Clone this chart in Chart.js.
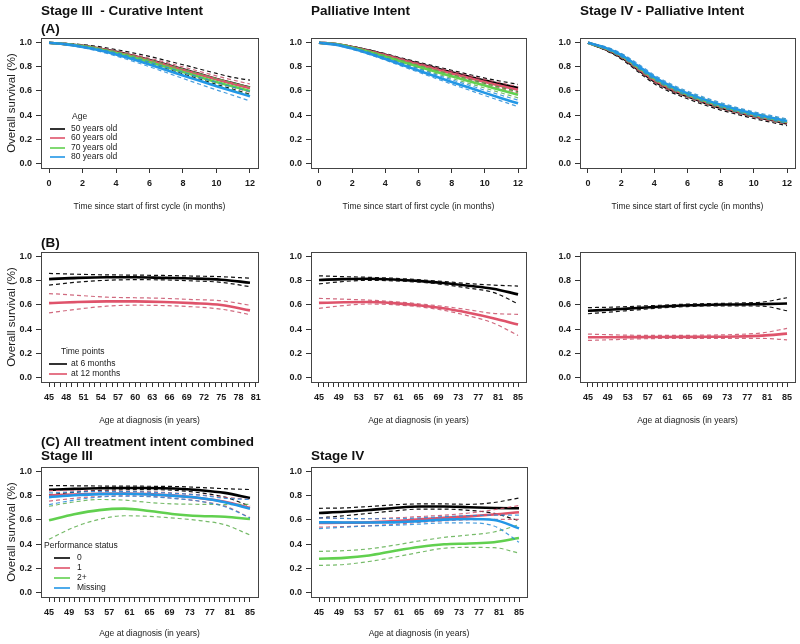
<!DOCTYPE html>
<html>
<head>
<meta charset="utf-8">
<script src="https://cdn.jsdelivr.net/npm/chart.js@4.4.1/dist/chart.umd.min.js"></script>
<style>
  body { margin: 0; background: #fff; }
  #page { position: relative; width: 800px; height: 644px; overflow: hidden; }
  .panel { position: absolute; }
</style>
</head>
<body>
<div id="page">
  <div class="panel" style="left:0;top:0;width:270px;height:215px"><canvas id="a1"></canvas></div>
  <div class="panel" style="left:270px;top:0;width:270px;height:215px"><canvas id="a2"></canvas></div>
  <div class="panel" style="left:540px;top:0;width:260px;height:215px"><canvas id="a3"></canvas></div>
  <div class="panel" style="left:0;top:215px;width:270px;height:215px"><canvas id="b1"></canvas></div>
  <div class="panel" style="left:270px;top:215px;width:270px;height:215px"><canvas id="b2"></canvas></div>
  <div class="panel" style="left:540px;top:215px;width:260px;height:215px"><canvas id="b3"></canvas></div>
  <div class="panel" style="left:0;top:430px;width:270px;height:214px"><canvas id="c1"></canvas></div>
  <div class="panel" style="left:270px;top:430px;width:270px;height:214px"><canvas id="c2"></canvas></div>
</div>
<script>
// categories / ticks
const ageGroups = ['50 years old', '60 years old', '70 years old', '80 years old'];
const timePoints = ['at 6 months', 'at 12 months'];
const perfStatus = ['0', '1', '2+', 'Missing'];
const survTicks = [0, 0.2, 0.4, 0.6, 0.8, 1.0];
const monthTicks = [0, 2, 4, 6, 8, 10, 12];
const ageLabelsB1 = [45, 48, 51, 54, 57, 60, 63, 66, 69, 72, 75, 78, 81];
const ageLabels = [45, 49, 53, 57, 61, 65, 69, 73, 77, 81, 85];

// x values
const months = [0, 1, 2, 3, 4, 5, 6, 7, 8, 9, 10, 11, 12];
const agesB1 = [45, 50, 55, 60, 65, 70, 75, 80];
const ages = [45, 50, 55, 60, 65, 70, 75, 80, 85];

// (A) Stage III curative, by age (50, 60, 70, 80)
const curativeEst = [
  [1, 0.99, 0.975, 0.953, 0.925, 0.893, 0.858, 0.82, 0.78, 0.74, 0.70, 0.663, 0.628],
  [1, 0.99, 0.974, 0.951, 0.922, 0.89, 0.854, 0.816, 0.776, 0.736, 0.697, 0.66, 0.624],
  [1, 0.989, 0.971, 0.946, 0.915, 0.879, 0.84, 0.799, 0.757, 0.716, 0.675, 0.637, 0.60],
  [1, 0.987, 0.966, 0.938, 0.903, 0.863, 0.82, 0.775, 0.729, 0.684, 0.64, 0.597, 0.556]
];
const curativeLo = [
  [1, 0.985, 0.965, 0.938, 0.906, 0.869, 0.829, 0.787, 0.742, 0.698, 0.654, 0.614, 0.572],
  [1, 0.987, 0.968, 0.942, 0.91, 0.875, 0.836, 0.795, 0.752, 0.71, 0.669, 0.63, 0.59],
  [1, 0.986, 0.965, 0.937, 0.903, 0.864, 0.822, 0.778, 0.733, 0.69, 0.647, 0.607, 0.567],
  [1, 0.984, 0.96, 0.929, 0.89, 0.847, 0.801, 0.753, 0.704, 0.656, 0.609, 0.563, 0.517]
];
const curativeHi = [
  [1, 0.995, 0.985, 0.968, 0.944, 0.917, 0.887, 0.853, 0.818, 0.782, 0.746, 0.712, 0.69],
  [1, 0.993, 0.98, 0.96, 0.934, 0.905, 0.872, 0.837, 0.80, 0.762, 0.725, 0.69, 0.658],
  [1, 0.992, 0.977, 0.955, 0.927, 0.894, 0.858, 0.82, 0.781, 0.742, 0.703, 0.667, 0.633],
  [1, 0.99, 0.972, 0.947, 0.916, 0.879, 0.839, 0.797, 0.754, 0.712, 0.671, 0.631, 0.595]
];

// Palliative intent, by age
const palliativeEst = [
  [1, 0.99, 0.965, 0.935, 0.90, 0.862, 0.826, 0.79, 0.755, 0.72, 0.686, 0.655, 0.625],
  [1, 0.99, 0.964, 0.932, 0.896, 0.857, 0.819, 0.782, 0.746, 0.71, 0.675, 0.642, 0.61],
  [1, 0.989, 0.96, 0.925, 0.885, 0.843, 0.802, 0.761, 0.722, 0.683, 0.645, 0.606, 0.568],
  [1, 0.985, 0.952, 0.912, 0.866, 0.818, 0.77, 0.722, 0.675, 0.63, 0.584, 0.54, 0.497]
];
const palliativeLo = [
  [1, 0.988, 0.96, 0.928, 0.891, 0.851, 0.813, 0.775, 0.738, 0.701, 0.665, 0.63, 0.595],
  [1, 0.988, 0.959, 0.925, 0.887, 0.846, 0.806, 0.767, 0.729, 0.691, 0.654, 0.619, 0.584],
  [1, 0.987, 0.955, 0.918, 0.876, 0.832, 0.789, 0.746, 0.705, 0.664, 0.624, 0.583, 0.543],
  [1, 0.982, 0.946, 0.904, 0.856, 0.806, 0.756, 0.706, 0.657, 0.61, 0.562, 0.516, 0.47]
];
const palliativeHi = [
  [1, 0.992, 0.97, 0.942, 0.909, 0.873, 0.839, 0.805, 0.772, 0.739, 0.707, 0.68, 0.655],
  [1, 0.992, 0.969, 0.939, 0.905, 0.868, 0.832, 0.797, 0.763, 0.729, 0.696, 0.665, 0.636],
  [1, 0.991, 0.965, 0.932, 0.894, 0.854, 0.815, 0.776, 0.739, 0.702, 0.666, 0.629, 0.593],
  [1, 0.988, 0.958, 0.92, 0.876, 0.83, 0.784, 0.738, 0.693, 0.65, 0.606, 0.564, 0.524]
];

// Stage IV palliative, by age
const stage4Est = [
  [1, 0.95, 0.88, 0.78, 0.68, 0.61, 0.555, 0.505, 0.46, 0.425, 0.39, 0.36, 0.33],
  [1, 0.955, 0.89, 0.79, 0.69, 0.62, 0.565, 0.515, 0.47, 0.432, 0.397, 0.367, 0.338],
  [1, 0.958, 0.895, 0.80, 0.705, 0.632, 0.573, 0.523, 0.478, 0.44, 0.405, 0.374, 0.345],
  [1, 0.962, 0.90, 0.81, 0.715, 0.64, 0.58, 0.53, 0.485, 0.445, 0.41, 0.38, 0.35]
];
const stage4Lo = [
  [1, 0.942, 0.866, 0.762, 0.66, 0.59, 0.535, 0.485, 0.441, 0.406, 0.371, 0.341, 0.311],
  [1, 0.947, 0.877, 0.775, 0.674, 0.603, 0.548, 0.498, 0.453, 0.416, 0.381, 0.351, 0.322],
  [1, 0.95, 0.882, 0.785, 0.689, 0.615, 0.556, 0.506, 0.461, 0.424, 0.389, 0.358, 0.329],
  [1, 0.954, 0.886, 0.793, 0.697, 0.622, 0.562, 0.512, 0.467, 0.428, 0.393, 0.363, 0.333]
];
const stage4Hi = [
  [1, 0.958, 0.894, 0.798, 0.70, 0.63, 0.575, 0.525, 0.479, 0.444, 0.409, 0.379, 0.349],
  [1, 0.963, 0.903, 0.805, 0.706, 0.637, 0.582, 0.532, 0.487, 0.448, 0.413, 0.383, 0.354],
  [1, 0.966, 0.908, 0.815, 0.721, 0.649, 0.59, 0.54, 0.495, 0.456, 0.421, 0.39, 0.361],
  [1, 0.97, 0.914, 0.827, 0.733, 0.658, 0.598, 0.548, 0.503, 0.462, 0.427, 0.397, 0.367]
];

// (B) survival at 6 / 12 months by age at diagnosis
const curativeByAgeEst = [
  [0.815, 0.825, 0.83, 0.83, 0.825, 0.82, 0.81, 0.785],
  [0.615, 0.625, 0.63, 0.63, 0.625, 0.615, 0.60, 0.555]
];
const curativeByAgeLo = [
  [0.765, 0.79, 0.805, 0.81, 0.808, 0.80, 0.788, 0.752],
  [0.535, 0.565, 0.59, 0.598, 0.595, 0.585, 0.565, 0.52]
];
const curativeByAgeHi = [
  [0.862, 0.855, 0.85, 0.848, 0.845, 0.84, 0.835, 0.822],
  [0.695, 0.68, 0.665, 0.66, 0.655, 0.645, 0.635, 0.598]
];
const palliativeByAgeEst = [
  [0.808, 0.815, 0.818, 0.812, 0.80, 0.782, 0.76, 0.735, 0.688],
  [0.617, 0.622, 0.624, 0.615, 0.598, 0.572, 0.535, 0.49, 0.437]
];
const palliativeByAgeLo = [
  [0.775, 0.795, 0.805, 0.80, 0.79, 0.77, 0.74, 0.705, 0.61],
  [0.572, 0.595, 0.608, 0.602, 0.585, 0.556, 0.51, 0.45, 0.347]
];
const palliativeByAgeHi = [
  [0.842, 0.835, 0.83, 0.822, 0.81, 0.795, 0.778, 0.765, 0.757],
  [0.655, 0.648, 0.64, 0.628, 0.61, 0.588, 0.56, 0.53, 0.522]
];
const stage4ByAgeEst = [
  [0.552, 0.562, 0.575, 0.587, 0.597, 0.602, 0.604, 0.607, 0.612],
  [0.332, 0.332, 0.333, 0.334, 0.335, 0.336, 0.338, 0.345, 0.362]
];
const stage4ByAgeLo = [
  [0.527, 0.543, 0.56, 0.576, 0.587, 0.592, 0.592, 0.59, 0.552],
  [0.305, 0.312, 0.318, 0.322, 0.323, 0.322, 0.322, 0.322, 0.31]
];
const stage4ByAgeHi = [
  [0.578, 0.582, 0.59, 0.598, 0.607, 0.612, 0.616, 0.624, 0.66],
  [0.358, 0.352, 0.348, 0.347, 0.348, 0.35, 0.355, 0.368, 0.405]
];

// (C) by performance status (0, 1, 2+, Missing)
const psStage3Est = [
  [0.85, 0.858, 0.864, 0.866, 0.866, 0.862, 0.848, 0.825, 0.783],
  [0.803, 0.812, 0.818, 0.82, 0.815, 0.802, 0.782, 0.752, 0.70],
  [0.597, 0.647, 0.682, 0.694, 0.675, 0.648, 0.633, 0.627, 0.608],
  [0.79, 0.805, 0.815, 0.818, 0.812, 0.80, 0.783, 0.748, 0.694]
];
const psStage3Lo = [
  [0.81, 0.83, 0.845, 0.851, 0.852, 0.846, 0.826, 0.79, 0.715],
  [0.756, 0.78, 0.795, 0.80, 0.796, 0.78, 0.755, 0.715, 0.62],
  [0.44, 0.54, 0.605, 0.635, 0.63, 0.615, 0.595, 0.56, 0.475],
  [0.728, 0.765, 0.79, 0.798, 0.793, 0.778, 0.756, 0.71, 0.617]
];
const psStage3Hi = [
  [0.886, 0.884, 0.882, 0.881, 0.88, 0.878, 0.87, 0.86, 0.853],
  [0.844, 0.842, 0.84, 0.838, 0.834, 0.824, 0.808, 0.788, 0.77],
  [0.714, 0.75, 0.77, 0.765, 0.745, 0.733, 0.73, 0.728, 0.73],
  [0.825, 0.832, 0.836, 0.836, 0.83, 0.82, 0.806, 0.78, 0.77]
];
const psStage4Est = [
  [0.658, 0.668, 0.683, 0.70, 0.712, 0.712, 0.706, 0.70, 0.697],
  [0.575, 0.577, 0.58, 0.59, 0.605, 0.617, 0.63, 0.645, 0.664],
  [0.278, 0.285, 0.305, 0.342, 0.375, 0.398, 0.405, 0.415, 0.45],
  [0.58, 0.579, 0.579, 0.58, 0.59, 0.603, 0.608, 0.60, 0.53]
];
const psStage4Lo = [
  [0.617, 0.635, 0.655, 0.675, 0.69, 0.69, 0.68, 0.655, 0.594],
  [0.54, 0.545, 0.552, 0.563, 0.58, 0.593, 0.602, 0.605, 0.605],
  [0.222, 0.23, 0.255, 0.29, 0.33, 0.365, 0.372, 0.37, 0.325],
  [0.528, 0.54, 0.55, 0.556, 0.565, 0.575, 0.575, 0.55, 0.415]
];
const psStage4Hi = [
  [0.697, 0.70, 0.712, 0.726, 0.733, 0.733, 0.73, 0.745, 0.783],
  [0.617, 0.612, 0.61, 0.617, 0.628, 0.64, 0.658, 0.685, 0.72],
  [0.339, 0.345, 0.36, 0.39, 0.425, 0.455, 0.475, 0.50, 0.56],
  [0.617, 0.613, 0.61, 0.61, 0.617, 0.628, 0.636, 0.64, 0.64]
];

const groupColors = ['#000000', '#DF536B', '#61D04F', '#2297E6'];
const dashColors = ['#111111', 'rgba(200,80,105,0.85)', 'rgba(95,175,80,0.85)', 'rgba(40,140,215,0.85)'];

Chart.defaults.font.family = '"Liberation Sans", Arial, sans-serif';
Chart.defaults.color = '#1a1a1a';

function range(a, b) {
  const out = [];
  for (let i = a; i <= b; i++) out.push(i);
  return out;
}

// bold titles, left aligned on the plot box
const panelTitle = {
  id: 'panelTitle',
  afterDraw(chart, args, opts) {
    if (!opts.lines) return;
    const {ctx, chartArea: {left, top}} = chart;
    ctx.save();
    ctx.font = 'bold 13.5px "Liberation Sans", Arial, sans-serif';
    ctx.fillStyle = '#111';
    ctx.textBaseline = 'middle';
    opts.lines.forEach(l => ctx.fillText(l.text, left, top - l.dy));
    ctx.restore();
  }
};

// R-like legend, bottomleft, no frame
const insetLegend = {
  id: 'insetLegend',
  afterDraw(chart, args, opts) {
    if (!opts.labels) return;
    const {ctx, chartArea: {left, bottom}} = chart;
    ctx.save();
    ctx.font = '8.5px "Liberation Sans", Arial, sans-serif';
    ctx.fillStyle = '#1a1a1a';
    ctx.textBaseline = 'middle';
    ctx.fillText(opts.title, left + opts.titleX, bottom - opts.titleDy);
    opts.labels.forEach((lab, i) => {
      const y = bottom - opts.rows[i];
      ctx.strokeStyle = groupColors[i];
      ctx.lineWidth = 1.6;
      ctx.beginPath();
      ctx.moveTo(left + opts.lineX[0], y);
      ctx.lineTo(left + opts.lineX[1], y);
      ctx.stroke();
      ctx.fillText(lab, left + opts.textX, y);
    });
    ctx.restore();
  }
};

// plot frame
const plotBox = {
  id: 'plotBox',
  afterDatasetsDraw(chart) {
    const {ctx, chartArea: {left, top, width, height}} = chart;
    ctx.save();
    ctx.strokeStyle = '#444';
    ctx.lineWidth = 1;
    ctx.strokeRect(Math.round(left) + 0.5, Math.round(top) + 0.5, Math.round(width), Math.round(height));
    ctx.restore();
  }
};

function createSurvival(id, {...p}) {
  const ctx = document.getElementById(id).getContext('2d');
  const pts = ys => ys.map((y, i) => ({x: p.x[i], y: y}));
  const datasets = [];
  p.est.forEach((est, g) => {
    datasets.push({data: pts(est), borderColor: groupColors[g], borderWidth: 2.6, order: -datasets.length});
    datasets.push({data: pts(p.hi[g]), borderColor: dashColors[g], borderWidth: 1.2, borderDash: [4, 3], order: -datasets.length});
    datasets.push({data: pts(p.lo[g]), borderColor: dashColors[g], borderWidth: 1.2, borderDash: [4, 3], order: -datasets.length});
  });
  const tickGrid = {drawOnChartArea: false, drawTicks: true, tickLength: 5, color: '#333', lineWidth: 1};
  new Chart(ctx, {
    type: 'line',
    data: {datasets},
    plugins: [panelTitle, insetLegend, plotBox],
    options: {
      responsive: true,
      maintainAspectRatio: false,
      animation: false,
      elements: {point: {radius: 0}, line: {cubicInterpolationMode: 'monotone', fill: false}},
      layout: {padding: {top: p.padTop, right: p.padRight, left: 0, bottom: 0}},
      plugins: {
        legend: {display: false},
        tooltip: {enabled: false},
        panelTitle: {lines: p.title},
        insetLegend: p.legend || {}
      },
      scales: {
        x: {
          type: 'linear',
          min: p.xMin,
          max: p.xMax,
          afterBuildTicks: s => { s.ticks = p.xTicks.map(v => ({value: v})); },
          afterFit: s => { s.height = p.xHeight; },
          grid: tickGrid,
          border: {display: false},
          ticks: {
            autoSkip: false, maxRotation: 0, minRotation: 0, padding: 5,
            font: {size: 9, weight: 'bold'}, color: '#1a1a1a',
            callback: v => p.xLabels.includes(v) ? String(v) : ''
          },
          title: {display: true, text: p.xTitle, font: {size: 8.5}, color: '#1a1a1a', padding: {top: 0, bottom: p.xTitlePad}}
        },
        y: {
          type: 'linear',
          min: -0.04,
          max: 1.04,
          afterBuildTicks: s => { s.ticks = survTicks.map(v => ({value: v})); },
          afterFit: s => { s.width = p.yWidth; },
          grid: tickGrid,
          border: {display: false},
          ticks: {padding: 4, font: {size: 9, weight: 'bold'}, color: '#1a1a1a', callback: v => v.toFixed(1)},
          title: {display: !!p.yTitle, text: 'Overall survival (%)', font: {size: 11.5}, color: '#1a1a1a', padding: {top: 5, bottom: 0}}
        }
      }
    }
  });
}

const monthAxis = {x: months, xMin: -0.48, xMax: 12.48, xTicks: monthTicks, xLabels: monthTicks,
  xTitle: 'Time since start of first cycle (in months)', padTop: 38, xHeight: 47, xTitlePad: 3};
const ageAxis = {x: ages, xMin: 43.4, xMax: 86.6, xTicks: range(45, 85), xLabels: ageLabels,
  xTitle: 'Age at diagnosis (in years)'};

createSurvival('a1', {...monthAxis, est: curativeEst, lo: curativeLo, hi: curativeHi,
  yWidth: 41, padRight: 12, yTitle: true,
  title: [{text: 'Stage III  - Curative Intent', dy: 27}, {text: '(A)', dy: 9}],
  legend: {title: 'Age', titleX: 31, titleDy: 51, labels: ageGroups, rows: [39, 30, 20, 11], lineX: [9, 24], textX: 30}});
createSurvival('a2', {...monthAxis, est: palliativeEst, lo: palliativeLo, hi: palliativeHi,
  yWidth: 41, padRight: 14, title: [{text: 'Palliative Intent', dy: 27}]});
createSurvival('a3', {...monthAxis, est: stage4Est, lo: stage4Lo, hi: stage4Hi,
  yWidth: 40, padRight: 5, title: [{text: 'Stage IV - Palliative Intent', dy: 27}]});

createSurvival('b1', {...ageAxis, x: agesB1, xMin: 43.6, xMax: 81.4, xTicks: range(45, 81), xLabels: ageLabelsB1,
  est: curativeByAgeEst, lo: curativeByAgeLo, hi: curativeByAgeHi,
  padTop: 37, xHeight: 48, xTitlePad: 4, yWidth: 41, padRight: 12, yTitle: true,
  title: [{text: '(B)', dy: 9}],
  legend: {title: 'Time points', titleX: 20, titleDy: 30, labels: timePoints, rows: [18, 8], lineX: [8, 26], textX: 30}});
createSurvival('b2', {...ageAxis, est: palliativeByAgeEst, lo: palliativeByAgeLo, hi: palliativeByAgeHi,
  padTop: 37, xHeight: 48, xTitlePad: 4, yWidth: 41, padRight: 14});
createSurvival('b3', {...ageAxis, est: stage4ByAgeEst, lo: stage4ByAgeLo, hi: stage4ByAgeHi,
  padTop: 37, xHeight: 48, xTitlePad: 4, yWidth: 40, padRight: 5});

createSurvival('c1', {...ageAxis, est: psStage3Est, lo: psStage3Lo, hi: psStage3Hi,
  padTop: 37, xHeight: 47, xTitlePad: 5, yWidth: 41, padRight: 12, yTitle: true,
  title: [{text: '(C) All treatment intent combined', dy: 25}, {text: 'Stage III', dy: 11}],
  legend: {title: 'Performance status', titleX: 3, titleDy: 51, labels: perfStatus, rows: [39, 29, 19, 9], lineX: [13, 29], textX: 36}});
createSurvival('c2', {...ageAxis, est: psStage4Est, lo: psStage4Lo, hi: psStage4Hi,
  padTop: 37, xHeight: 47, xTitlePad: 5, yWidth: 41, padRight: 13,
  title: [{text: 'Stage IV', dy: 11}]});
</script>
</body>
</html>
